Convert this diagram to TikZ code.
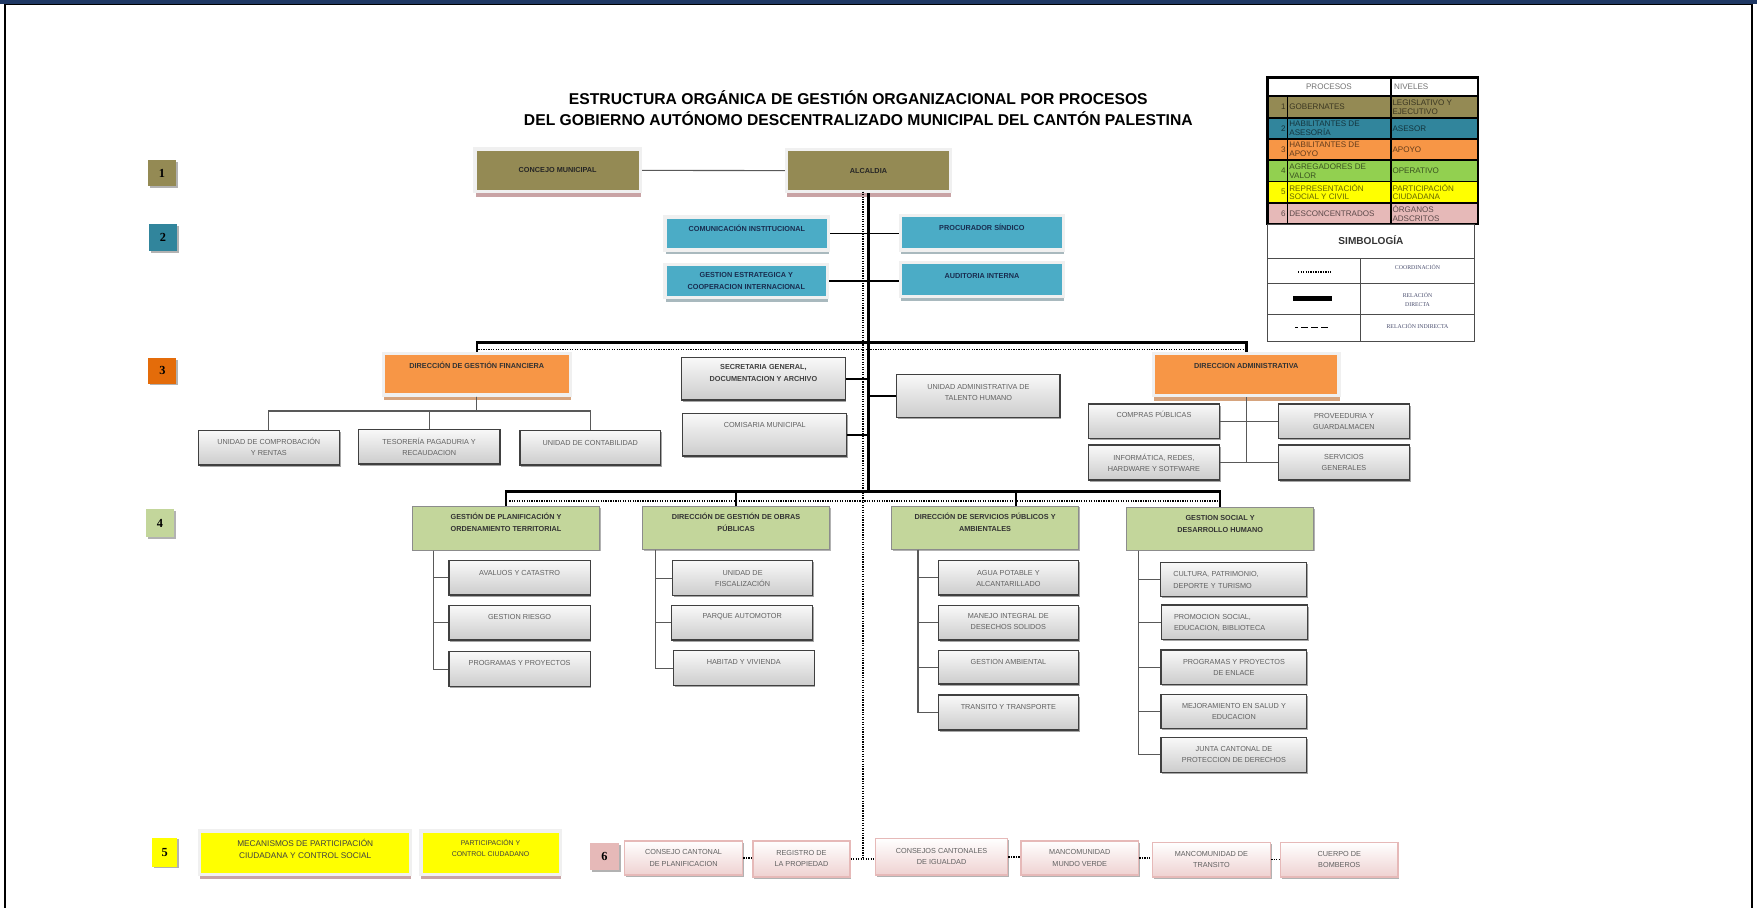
\documentclass[tikz,border=0pt]{standalone}
\usepackage{fontspec}
\setmainfont{Liberation Sans}
\newfontfamily\tms{Liberation Serif}
\usepackage{tikz}
\usetikzlibrary{shadows}

\definecolor{topbar}{HTML}{1F3864}
\definecolor{olv}{HTML}{948A54}
\definecolor{tealbx}{HTML}{4BACC6}
\definecolor{tealdk}{HTML}{31859C}
\definecolor{orng}{HTML}{F79646}
\definecolor{orngdk}{HTML}{E46C0A}
\definecolor{grn}{HTML}{C3D69B}
\definecolor{grnlg}{HTML}{92D050}
\definecolor{ylw}{HTML}{FFFF00}
\definecolor{pnk}{HTML}{E6B9B8}
\definecolor{shpink}{HTML}{C9A3A5}
\definecolor{shtan}{HTML}{D6A47E}
\definecolor{shgray}{HTML}{A9B9BE}
\definecolor{symtxt}{HTML}{4A4E6E}

\newcommand\bxf{\fontsize{6.5}{10}\selectfont}
\newcommand\lgf{\fontsize{7.2}{7.8}\selectfont}
\newcommand\smf{\tms\fontsize{5.2}{7.5}\selectfont}

\begin{document}
\begin{tikzpicture}[x=1pt, y=-1pt,
  cbx/.style 2 args={minimum width=#1pt, minimum height=#2pt},
  tbx/.style n args={3}{minimum width=#1pt, text height=#2pt, text depth=#3pt},
  base/.style={rectangle, inner sep=0pt, align=center, font=\bxf},
  frm/.style={base, draw=black!6, line width=3pt},
  olvbox/.style={frm, fill=olv, font=\bxf\bfseries, text=black!85,
    drop shadow={shadow xshift=0.5pt, shadow yshift=-4.5pt, fill=shpink, opacity=1}},
  tealbox/.style={frm, fill=tealbx, font=\bxf\bfseries, text=topbar!80!black,
    drop shadow={shadow xshift=0.5pt, shadow yshift=-4pt, fill=shgray, opacity=1}},
  orgbox/.style={frm, fill=orng, font=\bxf\bfseries, text=black!80,
    drop shadow={shadow xshift=0.5pt, shadow yshift=-4.5pt, fill=shtan, opacity=1}},
  ylwbox/.style={frm, fill=ylw, text=black!75,
    drop shadow={shadow xshift=0.5pt, shadow yshift=-4.5pt, fill=shpink, opacity=1}},
  grnbox/.style={base, fill=grn, draw=black!45, line width=0.8pt, font=\bxf\bfseries, text=black!80,
    drop shadow={shadow xshift=1pt, shadow yshift=-1.2pt, fill=black!30, opacity=1}},
  graybox/.style={base, draw=black!75, line width=1.1pt, top color=gray!5, bottom color=gray!40,
    text=black!62, drop shadow={shadow xshift=1.2pt, shadow yshift=-1.5pt, fill=black!35, opacity=1}},
  pnkbox/.style={base, draw=pnk, line width=1.5pt, top color=white, bottom color=pnk!65,
    text=black!62, drop shadow={shadow xshift=1.2pt, shadow yshift=-1.8pt, fill=black!30, opacity=1}},
  lvl/.style={rectangle, inner sep=0pt, font=\tms\bfseries\fontsize{11}{11}\selectfont,
    drop shadow={shadow xshift=1.5pt, shadow yshift=-1.5pt, fill=black!30, opacity=1}},
  lgtxt/.style={font=\lgf, inner sep=0pt, align=left},
  smtxt/.style={font=\smf, text=symtxt, inner sep=0pt, align=center},
  thk/.style={line width=2.2pt},
  med/.style={line width=1.6pt},
  thn/.style={line width=1pt, black!65},
  dotln/.style={line width=1.5pt, dash pattern=on 1.1pt off 1.1pt}]
\useasboundingbox (0,0) rectangle (1568,810);

% page frame
\fill[topbar] (0,0) rectangle (1568,3.5);
\draw[line width=1.4pt] (4.5,810) -- (4.5,4.2) -- (1563.5,4.2) -- (1563.5,810);

% title
\node[font=\bfseries\fontsize{14}{19}\selectfont, align=center] (titulo) at (766,96.5)
  {ESTRUCTURA ORGÁNICA DE GESTIÓN ORGANIZACIONAL POR PROCESOS\\
   DEL GOBIERNO AUTÓNOMO DESCENTRALIZADO MUNICIPAL DEL CANTÓN PALESTINA};

% level markers
\node[lvl, cbx={25}{23}, fill=olv] (lv1) at (144.5,154.5) {1};
\node[lvl, cbx={25}{24}, fill=tealdk] (lv2) at (145.5,212) {2};
\node[lvl, cbx={25}{23}, fill=orngdk] (lv3) at (145,331) {3};
\node[lvl, cbx={25}{25}, fill=grn] (lv4) at (142.8,467) {4};
\node[lvl, cbx={22}{26}, fill=ylw] (lv5) at (147,760.5) {5};
\node[lvl, cbx={26}{24}, fill=pnk] (lv6) at (539.4,764.6) {6};

% level 1
\node[olvbox, cbx={147.6}{38.1}] (concejo) at (497.7,152) {CONCEJO MUNICIPAL};
\node[olvbox, cbx={146}{37.6}] (alcaldia) at (775,152.3) {ALCALDIA};

% level 2
\node[tealbox, tbx={146}{13.5}{16.1}] (comunic) at (666.5,208.3) {COMUNICACIÓN INSTITUCIONAL};
\node[tealbox, cbx={145}{29.6}] (estrateg) at (666,250.7) {GESTION ESTRATEGICA Y\\COOPERACION INTERNACIONAL};
\node[tealbox, tbx={145.5}{13.5}{17.1}] (procurador) at (876.3,207.8) {PROCURADOR SÍNDICO};
\node[tealbox, tbx={145.5}{13.8}{16.2}] (auditoria) at (876.3,249.5) {AUDITORIA INTERNA};

% level 3
\node[orgbox, tbx={166.7}{13.7}{23.5}] (financiera) at (425.5,333.9) {DIRECCIÓN DE GESTIÓN FINANCIERA};
\node[orgbox, tbx={165.7}{13.7}{24.1}] (administrativa) at (1112.2,334.2) {DIRECCION ADMINISTRATIVA};
\node[graybox, tbx={145.8}{21.1}{16.9}, font=\bxf\bfseries, text=black!75] (secretaria) at (681.3,338) {SECRETARIA GENERAL,\\DOCUMENTACION Y ARCHIVO};
\node[graybox, tbx={146.4}{12.6}{25.4}] (comisaria) at (682.5,388) {COMISARIA MUNICIPAL};
\node[graybox, tbx={145.7}{23.3}{15.5}] (talento) at (873.2,353.4) {UNIDAD ADMINISTRATIVA DE\\TALENTO HUMANO};
\node[graybox, tbx={125.8}{22.1}{8.5}] (comprob) at (239.9,399.7) {UNIDAD DE COMPROBACIÓN\\Y RENTAS};
\node[graybox, tbx={126.5}{23.5}{7.5}] (tesoreria) at (383,398.5) {TESORERÍA PAGADURIA Y\\RECAUDACION};
\node[graybox, tbx={125.6}{13.4}{17.2}] (contab) at (526.8,399.7) {UNIDAD DE CONTABILIDAD};
\node[graybox, tbx={117}{12.1}{18.5}] (compras) at (1029.8,375.9) {COMPRAS PÚBLICAS};
\node[graybox, cbx={117}{31.2}] (informat) at (1029.8,412.8) {INFORMÁTICA, REDES,\\HARDWARE Y SOTFWARE};
\node[graybox, cbx={116.8}{30.6}] (proveed) at (1199.4,375.9) {PROVEEDURIA Y\\GUARDALMACEN};
\node[graybox, cbx={116.8}{31.2}] (servgen) at (1199.4,412.8) {SERVICIOS\\GENERALES};

% level 4
\node[grnbox, tbx={166.6}{21.8}{16.9}] (planif) at (451.6,471.55) {GESTIÓN DE PLANIFICACIÓN Y\\ORDENAMIENTO TERRITORIAL};
\node[grnbox, tbx={166.6}{21.8}{16.3}] (obras) at (656.9,471.25) {DIRECCIÓN DE GESTIÓN DE  OBRAS\\PÚBLICAS};
\node[grnbox, tbx={166.6}{22.4}{16.3}] (servpub) at (879.1,470.95) {DIRECCIÓN DE SERVICIOS PÚBLICOS Y\\AMBIENTALES};
\node[grnbox, tbx={166.5}{22.1}{16}] (social) at (1088.9,471.85) {GESTION SOCIAL Y\\DESARROLLO HUMANO};

\node[graybox, tbx={125.9}{12.9}{17.7}] (avaluos) at (463.7,515.7) {AVALUOS Y CATASTRO};
\node[graybox, tbx={125.9}{12.7}{17.9}] (riesgo) at (463.7,555.9) {GESTION RIESGO};
\node[graybox, tbx={125.9}{12.7}{18.6}] (progproy) at (463.7,597.25) {PROGRAMAS Y PROYECTOS};
\node[graybox, tbx={125.3}{22.9}{8.3}] (fiscal) at (662.7,516) {UNIDAD DE\\FISCALIZACIÓN};
\node[graybox, tbx={125.9}{11.2}{19.4}] (parque) at (662.4,555.9) {PARQUE AUTOMOTOR};
\node[graybox, tbx={125.5}{12.1}{19.2}] (habitad) at (663.8,596.35) {HABITAD Y VIVIENDA};
\node[graybox, tbx={125}{23}{7.6}] (agua) at (899.9,515.7) {AGUA POTABLE Y\\ALCANTARILLADO};
\node[graybox, tbx={125}{21.2}{9.4}] (manejo) at (899.9,555.9) {MANEJO INTEGRAL DE\\DESECHOS SOLIDOS};
\node[graybox, tbx={125}{12.1}{17.7}] (gambiental) at (899.9,595.6) {GESTION AMBIENTAL};
\node[graybox, tbx={125}{12.7}{18.5}] (transito) at (899.9,635.9) {TRANSITO Y TRANSPORTE};
\node[graybox, tbx={130.3}{13}{17.6}, text width=107.7pt, inner xsep=11.3pt, align=left] (cultura) at (1101,517.2) {CULTURA, PATRIMONIO,\\DEPORTE Y TURISMO};
\node[graybox, tbx={130}{12.7}{17.9}, text width=108pt, inner xsep=11pt, align=left] (promocion) at (1101.8,555.3) {PROMOCION SOCIAL,\\EDUCACION, BIBLIOTECA};
\node[graybox, cbx={130}{30.6}] (progenlace) at (1101.2,595.4) {PROGRAMAS Y PROYECTOS\\DE ENLACE};
\node[graybox, cbx={130}{30.3}] (mejoram) at (1101.2,634.85) {MEJORAMIENTO EN SALUD Y\\EDUCACION};
\node[graybox, cbx={130}{31.3}] (junta) at (1101.2,673.65) {JUNTA CANTONAL DE\\PROTECCION DE DERECHOS};

% level 5 and 6
\node[ylwbox, tbx={188.2}{24.6}{14.1}, font=\fontsize{7.4}{10.4}\selectfont] (mecanismos) at (272.4,761) {MECANISMOS DE PARTICIPACIÓN\\CIUDADANA Y CONTROL SOCIAL};
\node[ylwbox, tbx={124.5}{22.8}{15.9}, font=\fontsize{6.2}{9.5}\selectfont] (partcontrol) at (437.8,761) {PARTICIPACIÓN Y\\CONTROL CIUDADANO};
\node[pnkbox, cbx={105.3}{30.7}] (ccplan) at (610,765.7) {CONSEJO CANTONAL\\DE PLANIFICACION};
\node[pnkbox, cbx={86.6}{32.1}] (registro) at (715.2,766.4) {REGISTRO DE\\LA PROPIEDAD};
\node[pnkbox, cbx={117.8}{32.8}] (ccigual) at (840.3,764.6) {CONSEJOS CANTONALES\\DE IGUALDAD};
\node[pnkbox, cbx={104.9}{30.7}] (mmverde) at (963.6,765.7) {MANCOMUNIDAD\\MUNDO VERDE};
\node[pnkbox, cbx={105.4}{30.6}] (mtransito) at (1081.1,767.1) {MANCOMUNIDAD DE\\TRANSITO};
\node[pnkbox, cbx={104.8}{30.6}] (bomberos) at (1195.2,767.1) {CUERPO DE\\BOMBEROS};

% connectors
\coordinate (bus3) at (775,305.8);
\coordinate (bus4) at (775,438.8);
\coordinate (dtop) at (770,171);
\coordinate (dend) at (770,767);
\coordinate (d3a) at (427,311.8);
\coordinate (d3b) at (1113,311.8);
\coordinate (d4a) at (454.5,446.9);
\coordinate (d4b) at (1088,446.9);

\draw[thn] (concejo.east) -- (alcaldia.west);
\draw[dotln] (dtop) -- (dend);
\draw[thk] (alcaldia.south) -- (bus4);
\draw[med] (comunic.east) -- (comunic.east -| procurador.west);
\draw[med] (estrateg.east) -- (estrateg.east -| auditoria.west);

\draw[thk] (financiera.north) |- (bus3) -| (administrativa.north);
\draw[dotln] (d3a) -- (d3b);
\draw[med] (secretaria.east) -- (secretaria.east -| bus3);
\draw[med] (comisaria.east) -- (comisaria.east -| bus3);
\draw[med] (talento.west) -- (talento.west -| bus3);

\foreach \c in {comprob, tesoreria, contab}
  \draw[thn] (financiera.south) -- ++(0,12.8) -| (\c.north);
\draw[thn] (administrativa.south) -- (administrativa.south |- informat.east);
\draw[thn] (compras.east) -- (compras.east -| proveed.west);
\draw[thn] (informat.east) -- (informat.east -| servgen.west);

\draw[thk] (planif.north) |- (bus4) -| (social.north);
\draw[med] (obras.north) -- (obras.north |- bus4);
\draw[med] ([xshift=27.5pt]servpub.north) -- ([xshift=27.5pt]servpub.north |- bus4);
\draw[dotln] (d4a) -- (d4b);

\foreach \c in {avaluos, riesgo, progproy}
  \draw[thn] ([xshift=19pt]planif.south west) |- (\c.west);
\foreach \c in {fiscal, parque, habitad}
  \draw[thn] ([xshift=11.6pt]obras.south west) |- (\c.west);
\foreach \c in {agua, manejo, gambiental, transito}
  \draw[thn] ([xshift=23.8pt]servpub.south west) |- (\c.west);
\foreach \c in {cultura, promocion, progenlace, mejoram, junta}
  \draw[thn] ([xshift=11pt]social.south west) |- (\c.west);

\draw[dotln] (ccplan.east) -- (ccplan.east -| registro.west);
\draw[dotln] (registro.east) -- (registro.east -| ccigual.west);
\draw[dotln] (ccigual.east) -- (ccigual.east -| mmverde.west);
\draw[dotln] (mmverde.east) -- (mmverde.east -| mtransito.west);
\draw[dotln] (mtransito.east) -- (mtransito.east -| bomberos.west);

% legend: procesos / niveles
\fill[white] (1131,69) rectangle (1319,86);
\foreach \i/\clr/\proc/\niv [evaluate=\i as \ya using 67+19*\i, evaluate=\i as \ym using 76.5+19*\i] in
  {1/olv/GOBERNATES/{LEGISLATIVO Y\\EJECUTIVO},
   2/tealdk/{HABILITANTES DE\\ASESORÍA}/ASESOR,
   3/orng/{HABILITANTES DE\\APOYO}/APOYO,
   4/grnlg/{AGREGADORES DE\\VALOR}/OPERATIVO,
   5/ylw/{REPRESENTACIÓN\\SOCIAL Y CIVIL}/{PARTICIPACIÓN\\CIUDADANA},
   6/pnk/DESCONCENTRADOS/{ÓRGANOS\\ADSCRITOS}} {
  \fill[\clr] (1131,\ya) rectangle (1319,\ya+19);
  \node[lgtxt, anchor=east, text=\clr!40!black] (lgn\i) at (1147.5,\ym) {\i};
  \node[lgtxt, anchor=west, text=\clr!40!black] (lgp\i) at (1150.5,\ym) {\proc};
  \node[lgtxt, anchor=west, text=\clr!40!black] (lgv\i) at (1242.5,\ym) {\niv};
}
\node[lgtxt, text=black!55] (lghp) at (1186,77.5) {PROCESOS};
\node[lgtxt, anchor=west, text=black!55] (lghn) at (1244,77.5) {NIVELES};
\foreach \y in {86,105,124,143,162,181}
  \draw[line width=1.6pt] (1131,\y) -- (1319,\y);
\draw[line width=1.6pt] (1149,86) -- (1149,200);
\draw[line width=1.6pt] (1241,69) -- (1241,200);
\draw[line width=2.4pt] (1131,69) rectangle (1319,200);

% legend: simbologia
\draw[line width=0.8pt, black!70] (1131,200) rectangle (1316,305);
\foreach \y in {230.6,253,281}
  \draw[line width=0.8pt, black!70] (1131,\y) -- (1316,\y);
\draw[line width=0.8pt, black!70] (1214,230.6) -- (1214,305);
\node[font=\bfseries\fontsize{9}{9}\selectfont, text=black!80] (simb) at (1223.5,214) {SIMBOLOGÍA};
\draw[dotln] (1158.5,242.8) -- (1188.8,242.8);
\draw[line width=4pt] (1154,266.3) -- (1189,266.3);
\draw[line width=1.4pt, dash pattern=on 2pt off 3pt on 6pt off 3pt on 6pt off 3pt on 6pt off 9pt] (1156,292.4) -- (1189,292.4);
\node[smtxt] (sy1) at (1265,238) {COORDINACIÓN};
\node[smtxt] (sy2) at (1265,267.3) {RELACIÓN\\DIRECTA};
\node[smtxt] (sy3) at (1265,291) {RELACIÓN INDIRECTA};
\end{tikzpicture}
\end{document}
